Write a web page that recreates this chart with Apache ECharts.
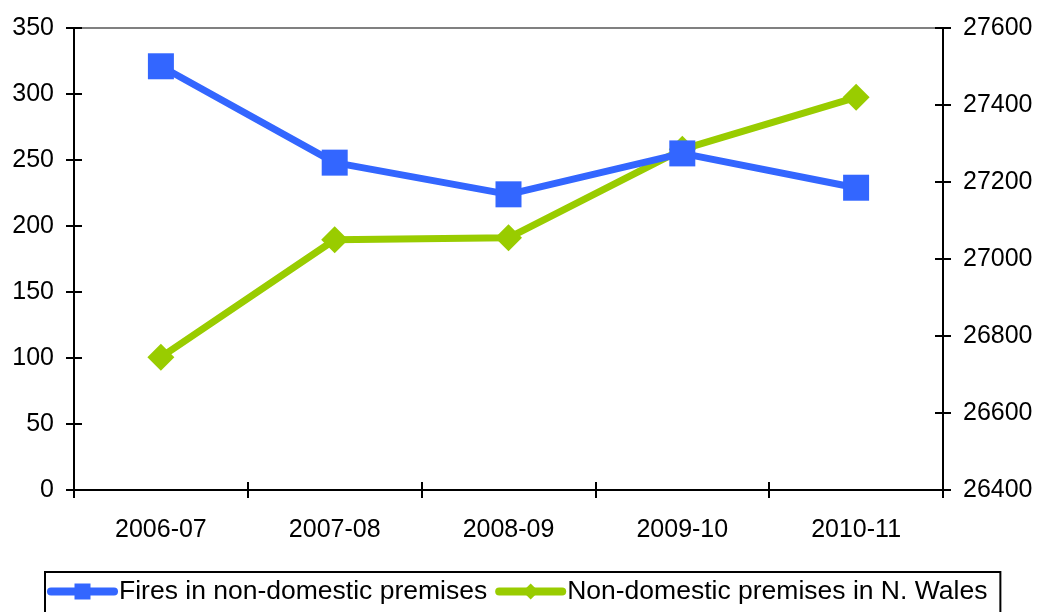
<!DOCTYPE html>
<html>
<head>
<meta charset="utf-8">
<script src="https://cdn.jsdelivr.net/npm/echarts@6/dist/echarts.min.js"></script>
<style>
html,body{margin:0;padding:0;background:#fff;}
#c{width:1039px;height:612px;}
</style>
</head>
<body>
<div id="c"></div>
<script>
const categories = ['2006-07', '2007-08', '2008-09', '2009-10', '2010-11'];
const fires = [321, 248, 224, 255, 229];
const premises = [26745, 27050, 27055, 27285, 27420];
const seriesNames = ['Fires in non-domestic premises', 'Non-domestic premises in N. Wales'];

const chart = echarts.init(document.getElementById('c'), null, {renderer: 'canvas'});
const FONT = 'Liberation Sans, Arial, sans-serif';
const axisLineStyle = {color: '#000', width: 2};
const labelStyle = {color: '#000', fontSize: 25, fontFamily: FONT};
const plain = v => String(v);

chart.setOption({
  animation: false,
  backgroundColor: '#fff',
  grid: {left: 74, right: 96, top: 28, bottom: 122, containLabel: false,
         show: true, borderColor: '#000', borderWidth: 2, backgroundColor: 'transparent'},
  legend: {
    left: 45, top: 572,
    padding: [6, 13, 40, 2],
    borderColor: '#000', borderWidth: 2,
    itemWidth: 63, itemHeight: 20, itemGap: 8,
    lineStyle: {width: 8, cap: 'round'},
    textStyle: {color: '#000', fontSize: 26.5, fontFamily: FONT},
    data: seriesNames
  },
  xAxis: [
    {type: 'category', data: categories, position: 'bottom', boundaryGap: true, offset: -8,
     axisLine: {show: false},
     axisTick: {show: true, length: 16, lineStyle: axisLineStyle},
     axisLabel: Object.assign({margin: 36}, labelStyle),
     splitLine: {show: false}},
    {type: 'category', data: categories, position: 'top', boundaryGap: true,
     axisLine: {show: true, lineStyle: {color: '#808080', width: 2}},
     axisTick: {show: false}, axisLabel: {show: false}, splitLine: {show: false}}
  ],
  yAxis: [
    {type: 'value', position: 'left', min: 0, max: 350, interval: 50, offset: -8,
     axisLine: {show: false},
     axisTick: {show: true, length: 16, lineStyle: axisLineStyle},
     axisLabel: Object.assign({margin: 28, formatter: plain}, labelStyle),
     splitLine: {show: false}},
    {type: 'value', position: 'right', min: 26400, max: 27600, interval: 200, offset: -8,
     axisLine: {show: false},
     axisTick: {show: true, length: 16, lineStyle: axisLineStyle},
     axisLabel: Object.assign({margin: 28, formatter: plain}, labelStyle),
     splitLine: {show: false}}
  ],
  series: [
    {name: seriesNames[0], type: 'line', data: fires, xAxisIndex: 0, yAxisIndex: 0,
     symbol: 'rect', symbolSize: 26,
     lineStyle: {color: '#3366FF', width: 7},
     itemStyle: {color: '#3366FF'}, z: 3},
    {name: seriesNames[1], type: 'line', data: premises, xAxisIndex: 0, yAxisIndex: 1,
     symbol: 'diamond', symbolSize: 27,
     lineStyle: {color: '#99CC00', width: 7},
     itemStyle: {color: '#99CC00'}, z: 2}
  ]
});
</script>
</body>
</html>
